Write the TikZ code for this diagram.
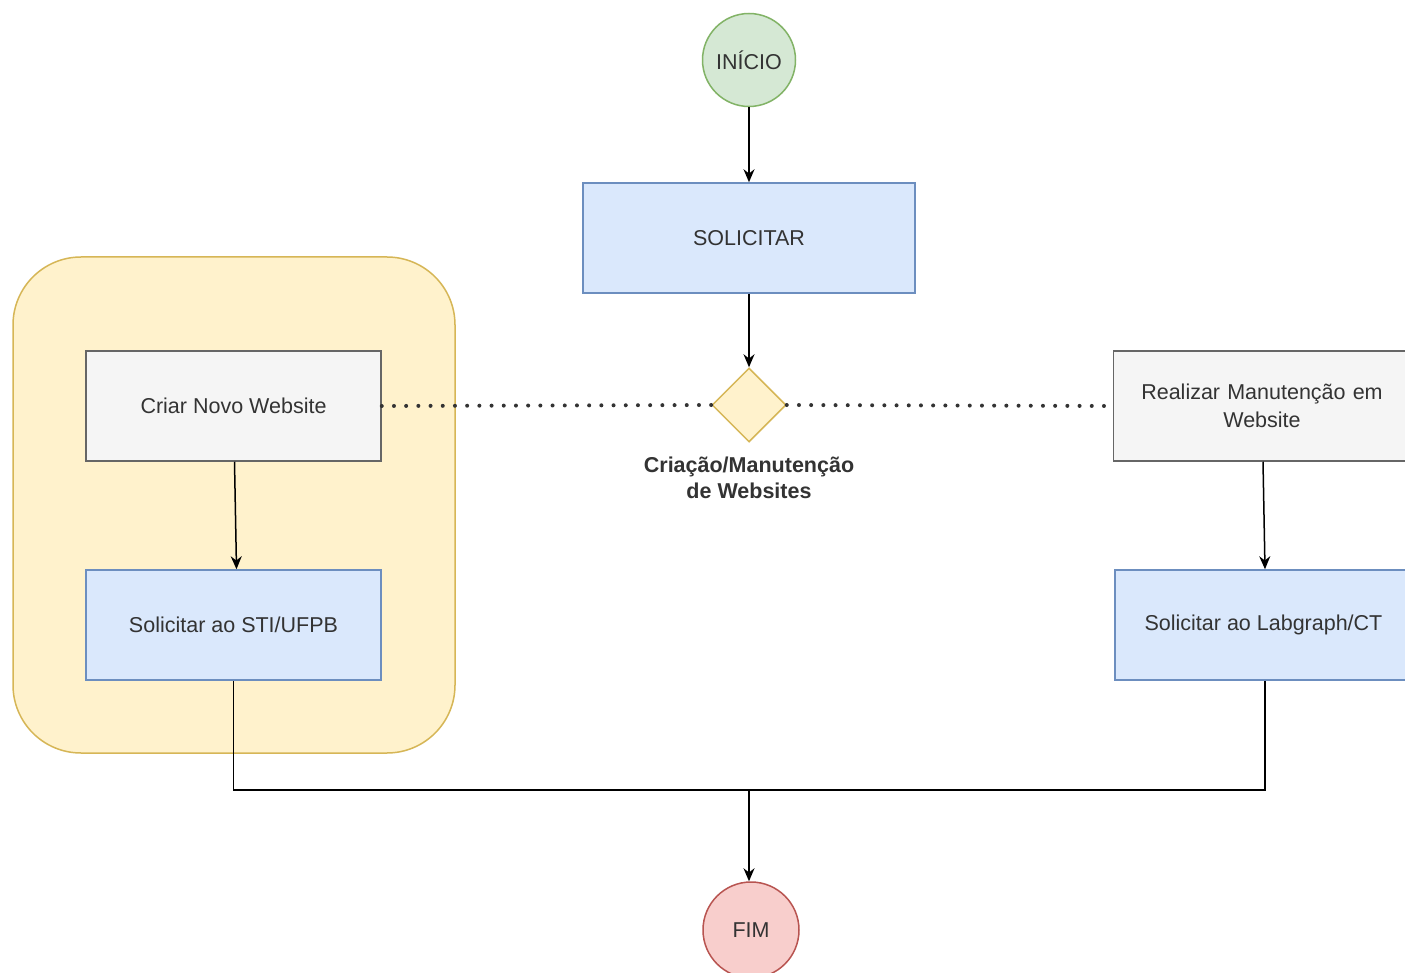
\documentclass[tikz,border=0pt]{standalone}
\usepackage{fontspec}
\setmainfont{Liberation Sans}
\usetikzlibrary{arrows.meta,shapes.geometric}
\definecolor{greenF}{HTML}{D5E8D4}\definecolor{greenD}{HTML}{82B366}
\definecolor{blueF}{HTML}{DAE8FC}\definecolor{blueD}{HTML}{6C8EBF}
\definecolor{yelF}{HTML}{FFF2CC}\definecolor{yelD}{HTML}{D6B656}
\definecolor{grayF}{HTML}{F5F5F5}\definecolor{grayD}{HTML}{666666}
\definecolor{redF}{HTML}{F8CECC}\definecolor{redD}{HTML}{B85450}
\definecolor{txt}{HTML}{333333}
\begin{document}
\begin{tikzpicture}[x=1pt,y=-1pt,
  every node/.style={font=\fontsize{21.5}{28}\selectfont, text=txt},
  procbox/.style={rectangle, draw=blueD, fill=blueF, line width=1.5pt, minimum width=295pt, minimum height=110pt, inner sep=0pt, align=center},
  graybox/.style={rectangle, draw=grayD, fill=grayF, line width=1.5pt, minimum width=295pt, minimum height=110pt, inner sep=0pt, align=center},
  term/.style={circle, line width=1.5pt, minimum size=93pt, inner sep=0pt},
  conn/.style={line width=1.5pt, draw=black, -{Stealth[length=13pt,width=11pt]}},
  dotline/.style={line width=4pt, line cap=round, dash pattern=on 0pt off 12.2pt, draw=txt}
]
\useasboundingbox (0,0) rectangle (1405,973);
\clip (0,0) rectangle (1405,973);
\fill[white] (0,0) rectangle (1405,973);

% container
\draw[fill=yelF, draw=yelD, line width=1.5pt, rounded corners=68pt] (13,257) rectangle (455,753);

\node[term, draw=greenD, fill=greenF] (ini) at (749,60) {INÍCIO};
\node[procbox, minimum width=332pt] (sol) at (749,238) {SOLICITAR};
\node[diamond, draw=yelD, fill=yelF, line width=1.5pt, minimum width=74pt, minimum height=74pt, inner sep=0pt, aspect=1] (dec) at (749,405) {};
\node[font=\bfseries\fontsize{21.5}{26}\selectfont, align=center] (declab) at (749,478) {Criação/Manutenção\\de Websites};

\node[graybox] (criar) at (233.5,406) {Criar Novo Website};
\node[procbox] (sti) at (233.5,625) {Solicitar ao STI/UFPB};
\node[graybox, minimum width=297pt, text width=280pt] (real) at (1262,406) {Realizar Manutenção em\\Website};
\node[procbox, minimum width=297pt] (lab) at (1263.5,625) {Solicitar ao Labgraph/CT};

\node[term, draw=redD, fill=redF, minimum size=96pt] (fim) at (751,930) {FIM};

\coordinate (jn) at (749,790);

\draw[conn] (ini) -- (sol.north -| ini);
\draw[conn] (sol) -- (dec.north);
\draw[dotline] (criar.east) -- (dec.west);
\draw[dotline] (dec.east) -- (real.west);
\draw[conn] ([xshift=1pt]criar.south) -- ([xshift=3pt]sti.north);
\draw[conn] ([xshift=1pt]real.south) -- ([xshift=1.5pt]lab.north);
\draw[line width=1.5pt] (sti.south) |- (jn);
\draw[line width=1.5pt] ([xshift=1.5pt]lab.south) |- (jn);
\draw[conn] (jn) -- (jn |- fim.north);
\end{tikzpicture}
\end{document}
